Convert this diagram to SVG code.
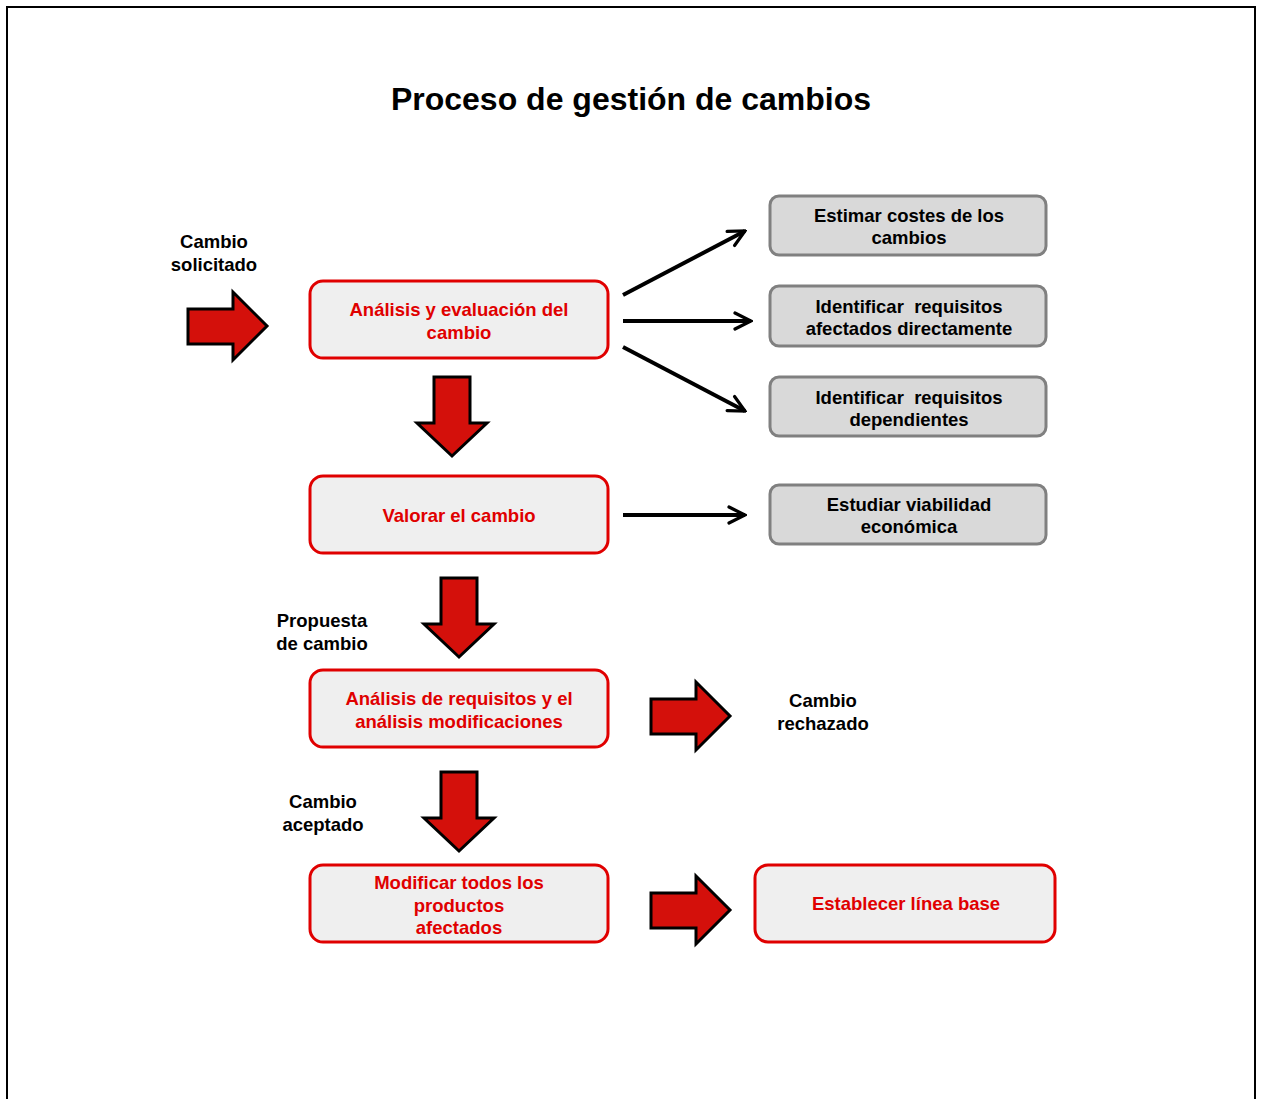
<svg xmlns="http://www.w3.org/2000/svg" width="1264" height="1099" viewBox="0 0 1264 1099">
  <style>
    .title { font-family: "Liberation Sans", Arial, sans-serif; font-weight: bold; font-size: 32px; fill: #000; text-anchor: middle; }
    .lbl { font-family: "Liberation Sans", Arial, sans-serif; font-weight: bold; font-size: 18.5px; fill: #000; text-anchor: middle; white-space: pre; }
    .rtxt { font-family: "Liberation Sans", Arial, sans-serif; font-weight: bold; font-size: 18.5px; fill: #e00000; text-anchor: middle; }
    .rbox { fill: #efefef; stroke: #e00000; stroke-width: 3; }
    .gbox { fill: #d9d9d9; stroke: #808080; stroke-width: 3; }
    .blk { fill: #d4100b; stroke: #000; stroke-width: 3; stroke-linejoin: miter; }
    .ln { stroke: #000; stroke-width: 4; fill: none; }
  </style>
  <defs>
    <marker id="chev" viewBox="0 0 10 10" refX="9" refY="5" markerWidth="5" markerHeight="5" markerUnits="strokeWidth" orient="auto">
      <path d="M1,1 L9,5 L1,9" fill="none" stroke="#000" stroke-width="1.6" stroke-linecap="round" stroke-linejoin="miter"/>
    </marker>
    <!-- block arrows, pointing right and down -->
    <path id="barR" d="M0,17 H45 V0 L79,34 L45,68 V52 H0 Z"/>
    <path id="barD" d="M18,0 H54 V46 H71 L36,79 L1,46 H18 Z"/>
  </defs>

  <rect width="1264" height="1099" fill="#fff"/>
  <path d="M7,1099 V7 H1255 V1099" fill="none" stroke="#000" stroke-width="2"/>

  <text class="title" x="631" y="110">Proceso de gestión de cambios</text>

  <!-- free labels -->
  <g id="lbl-solicitado">
    <text class="lbl" x="214" y="248">Cambio</text>
    <text class="lbl" x="214" y="271">solicitado</text>
  </g>
  <g id="lbl-propuesta">
    <text class="lbl" x="322" y="627">Propuesta</text>
    <text class="lbl" x="322" y="650">de cambio</text>
  </g>
  <g id="lbl-rechazado">
    <text class="lbl" x="823" y="707">Cambio</text>
    <text class="lbl" x="823" y="730">rechazado</text>
  </g>
  <g id="lbl-aceptado">
    <text class="lbl" x="323" y="808">Cambio</text>
    <text class="lbl" x="323" y="831">aceptado</text>
  </g>

  <!-- process boxes -->
  <g id="analisis">
    <rect class="rbox" x="310" y="281" width="298" height="77" rx="13"/>
    <text class="rtxt" x="459" y="316">Análisis y evaluación del</text>
    <text class="rtxt" x="459" y="339">cambio</text>
  </g>
  <g id="valorar">
    <rect class="rbox" x="310" y="476" width="298" height="77" rx="13"/>
    <text class="rtxt" x="459" y="522">Valorar el cambio</text>
  </g>
  <g id="requisitos">
    <rect class="rbox" x="310" y="670" width="298" height="77" rx="13"/>
    <text class="rtxt" x="459" y="705">Análisis de requisitos y el</text>
    <text class="rtxt" x="459" y="728">análisis modificaciones</text>
  </g>
  <g id="modificar">
    <rect class="rbox" x="310" y="865" width="298" height="77" rx="13"/>
    <text class="rtxt" x="459" y="889">Modificar todos los</text>
    <text class="rtxt" x="459" y="912">productos</text>
    <text class="rtxt" x="459" y="934">afectados</text>
  </g>
  <g id="linea-base">
    <rect class="rbox" x="755" y="865" width="300" height="77" rx="13"/>
    <text class="rtxt" x="906" y="910">Establecer línea base</text>
  </g>

  <!-- task boxes -->
  <g id="estimar">
    <rect class="gbox" x="770" y="196" width="276" height="59" rx="9"/>
    <text class="lbl" x="909" y="222">Estimar costes de los</text>
    <text class="lbl" x="909" y="244">cambios</text>
  </g>
  <g id="directos">
    <rect class="gbox" x="770" y="286" width="276" height="60" rx="9"/>
    <text class="lbl" x="909" y="313">Identificar  requisitos</text>
    <text class="lbl" x="909" y="335">afectados directamente</text>
  </g>
  <g id="dependientes">
    <rect class="gbox" x="770" y="377" width="276" height="59" rx="9"/>
    <text class="lbl" x="909" y="404">Identificar  requisitos</text>
    <text class="lbl" x="909" y="426">dependientes</text>
  </g>
  <g id="viabilidad">
    <rect class="gbox" x="770" y="485" width="276" height="59" rx="9"/>
    <text class="lbl" x="909" y="511">Estudiar viabilidad</text>
    <text class="lbl" x="909" y="533">económica</text>
  </g>

  <!-- connectors -->
  <g id="connectors">
    <line class="ln" x1="623" y1="295" x2="745" y2="231" marker-end="url(#chev)"/>
    <line class="ln" x1="623" y1="321" x2="751" y2="321" marker-end="url(#chev)"/>
    <line class="ln" x1="623" y1="347" x2="745" y2="411" marker-end="url(#chev)"/>
    <line class="ln" x1="623" y1="515" x2="745" y2="515" marker-end="url(#chev)"/>

    <use href="#barR" class="blk" x="188" y="292"/>
    <use href="#barD" class="blk" x="416" y="377"/>
    <use href="#barD" class="blk" x="423" y="578"/>
    <use href="#barD" class="blk" x="423" y="772"/>
    <use href="#barR" class="blk" x="651" y="682"/>
    <use href="#barR" class="blk" x="651" y="876"/>
  </g>
</svg>
